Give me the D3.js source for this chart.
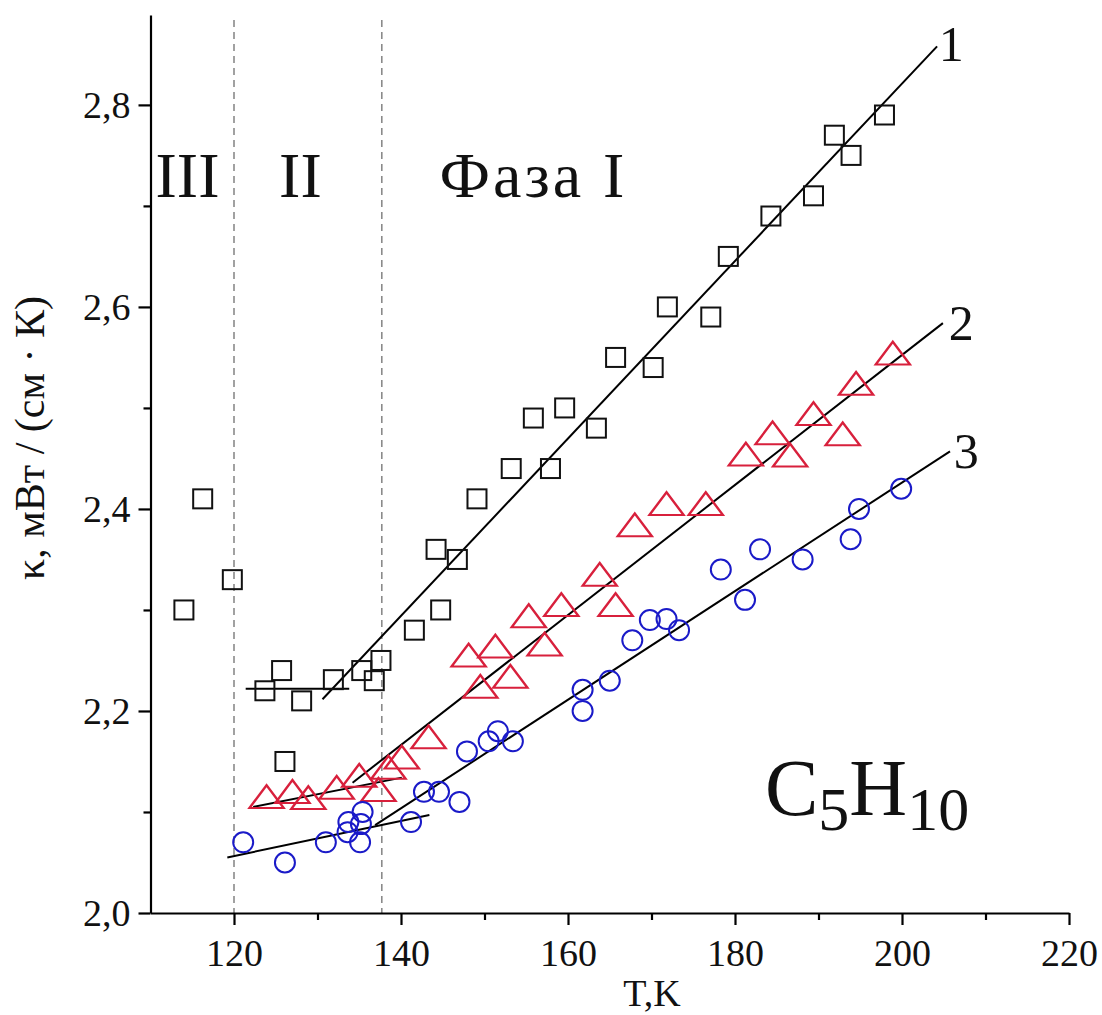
<!DOCTYPE html>
<html>
<head>
<meta charset="utf-8">
<script src="https://cdn.jsdelivr.net/npm/d3@7"></script>
<style>
  body { margin: 0; background: #fff; }
  text { font-family: "Liberation Serif", "Times New Roman", serif; }
</style>
</head>
<body>
<div id="container"></div>
<script>
let w = 1102;
let h = 1015;

// series 1 - squares
let sqT = [114.0, 116.25, 119.8, 123.7, 125.7, 126.1, 128.1, 131.9, 135.3, 136.8, 137.6, 141.6, 144.2, 144.75, 146.75, 149.1, 153.2, 155.85, 157.9, 159.6, 163.4, 165.7, 170.2, 171.9, 177.1, 179.2, 184.3, 189.4, 191.9, 193.9, 197.9];
let sqK = [2.300, 2.410, 2.330, 2.220, 2.240, 2.150, 2.210, 2.231, 2.240, 2.230, 2.250, 2.280, 2.360, 2.300, 2.350, 2.410, 2.440, 2.490, 2.440, 2.500, 2.480, 2.550, 2.540, 2.600, 2.590, 2.650, 2.690, 2.710, 2.770, 2.750, 2.790];

// series 2 - triangles
let trT = [123.9, 127.0, 128.9, 132.3, 135.0, 137.3, 138.5, 140.1, 143.3, 148.1, 149.5, 151.3, 153.1, 155.3, 157.2, 159.2, 163.8, 165.7, 168.0, 171.8, 176.5, 181.3, 184.5, 186.6, 189.4, 192.9, 194.5, 198.9];
let trK = [2.113, 2.118, 2.112, 2.122, 2.134, 2.120, 2.142, 2.152, 2.172, 2.253, 2.222, 2.262, 2.232, 2.292, 2.264, 2.303, 2.333, 2.303, 2.382, 2.403, 2.403, 2.452, 2.473, 2.451, 2.492, 2.472, 2.522, 2.552];

// series 3 - circles
let ciT = [121.1, 126.1, 131.0, 133.7, 133.6, 135.4, 135.2, 135.1, 141.2, 142.75, 144.55, 147.0, 147.9, 150.5, 151.6, 153.4, 161.75, 161.75, 165.0, 167.7, 169.8, 171.8, 173.3, 178.3, 181.2, 183.0, 188.1, 193.85, 194.85, 199.9];
let ciK = [2.070, 2.050, 2.070, 2.090, 2.080, 2.100, 2.088, 2.070, 2.090, 2.120, 2.120, 2.110, 2.160, 2.170, 2.180, 2.170, 2.221, 2.200, 2.230, 2.270, 2.290, 2.291, 2.280, 2.340, 2.310, 2.360, 2.350, 2.370, 2.400, 2.420];

// fitted straight lines [T0, T1], [K0, K1]
let fitLines = [
  {T: [121.4, 133.8], K: [2.222, 2.222]},
  {T: [130.6, 204.2], K: [2.2116, 2.858]},
  {T: [122.3, 140.1], K: [2.105, 2.134]},
  {T: [134.2, 204.9], K: [2.129, 2.584]},
  {T: [119.2, 143.4], K: [2.055, 2.097]},
  {T: [136.9, 205.75], K: [2.087, 2.457]}
];

// phase boundaries
let phaseT = [120, 137.7];

// ticks
let xMajor = [120, 140, 160, 180, 200, 220];
let xMinor = [130, 150, 170, 190, 210];
let yMajor = [2.0, 2.2, 2.4, 2.6, 2.8];
let yMinor = [2.1, 2.3, 2.5, 2.7];

// curve numbers
let curveLabels = ["1", "2", "3"];
let curveLabelT = [204.4, 205.6, 206.2];
let curveLabelK = [2.843, 2.567, 2.441];

let phaseLabels = ["III", "II", "Фаза I"];
let phaseLabelT = [110.6, 125.4, 144.6];
let phaseSpacing = [0, 0, 3];

let viz = d3.select("#container")
  .append("svg")
    .attr("width", w)
    .attr("height", h)
    .style("background", "#fff");

let xScale = d3.scaleLinear().domain([110, 220]).range([150.5, 1069]);
let yScale = d3.scaleLinear().domain([2.0, 2.889]).range([913, 15]);

let fmt = d => d3.format(".1f")(d).replace(".", ",");

// phase boundaries (dashed)
viz.selectAll(".phase").data(phaseT).enter().append("line")
  .attr("x1", d => xScale(d)).attr("x2", d => xScale(d))
  .attr("y1", 20).attr("y2", yScale(2.0))
  .attr("stroke", "#8a8a8a").attr("stroke-width", 1.6)
  .attr("stroke-dasharray", "7,5");

// x axis
let xAxisGroup = viz.append("g").attr("class", "xaxis")
  .attr("transform", "translate(0," + yScale(2.0) + ")");
xAxisGroup.call(d3.axisBottom(xScale).tickValues(xMajor).tickSize(12).tickSizeOuter(0).tickPadding(14));
let xMinorGroup = viz.append("g")
  .attr("transform", "translate(0," + yScale(2.0) + ")");
xMinorGroup.call(d3.axisBottom(xScale).tickValues(xMinor).tickSize(7).tickFormat(""));
xMinorGroup.select(".domain").remove();

// y axis
let yAxisGroup = viz.append("g").attr("class", "yaxis")
  .attr("transform", "translate(" + xScale(110) + ",0)");
yAxisGroup.call(d3.axisLeft(yScale).tickValues(yMajor).tickFormat(fmt).tickSize(12).tickSizeOuter(0).tickPadding(8));
let yMinorGroup = viz.append("g")
  .attr("transform", "translate(" + xScale(110) + ",0)");
yMinorGroup.call(d3.axisLeft(yScale).tickValues(yMinor).tickSize(7).tickFormat(""));
yMinorGroup.select(".domain").remove();

viz.selectAll(".xaxis path, .xaxis line, .yaxis path, .yaxis line, g line")
  .attr("stroke", "#000").attr("stroke-width", 2.2);
viz.selectAll(".xaxis text, .yaxis text")
  .attr("fill", "#111")
  .style("font-family", "'Liberation Serif', serif")
  .style("font-size", "38px");
viz.selectAll(".xaxis text").attr("dy", "0.71em");
viz.selectAll(".yaxis text").attr("dy", "0.34em");

// axis titles
viz.append("text")
  .attr("x", 652).attr("y", 1006)
  .attr("text-anchor", "middle")
  .style("font-size", "38px")
  .attr("fill", "#111")
  .text("T,K");

viz.append("text")
  .attr("transform", "translate(44," + 438 + ") rotate(-90)")
  .attr("text-anchor", "middle")
  .style("font-size", "42px")
  .attr("fill", "#111")
  .text("κ, мВт / (см · К)");

// fit lines
let line = d3.line().x(d => xScale(d[0])).y(d => yScale(d[1]));
viz.selectAll(".fit").data(fitLines).enter().append("path")
  .attr("d", d => line([[d.T[0], d.K[0]], [d.T[1], d.K[1]]]))
  .attr("stroke", "#000").attr("stroke-width", 2).attr("fill", "none");

// markers
let graphGroup = viz.append("g").classed("graphGroup", true);

graphGroup.selectAll(".sq").data(sqT).enter().append("rect")
  .attr("x", (d, i) => xScale(d) - 9.5)
  .attr("y", (d, i) => yScale(sqK[i]) - 9.5)
  .attr("width", 19).attr("height", 19)
  .attr("fill", "none").attr("stroke", "#111").attr("stroke-width", 2);

let tri = d3.symbol().type(d3.symbolTriangle).size(300);
graphGroup.selectAll(".tr").data(trT).enter().append("path")
  .attr("d", tri)
  .attr("transform", (d, i) => "translate(" + xScale(d) + "," + (yScale(trK[i]) + 1.5) + ") scale(1.3,1)")
  .attr("fill", "none").attr("stroke", "#d8203c").attr("stroke-width", 2);

graphGroup.selectAll(".ci").data(ciT).enter().append("circle")
  .attr("cx", d => xScale(d))
  .attr("cy", (d, i) => yScale(ciK[i]))
  .attr("r", 10)
  .attr("fill", "none").attr("stroke", "#1a1ac8").attr("stroke-width", 2);

// curve numbers
viz.selectAll(".cnum").data(curveLabels).enter().append("text")
  .attr("x", (d, i) => xScale(curveLabelT[i]))
  .attr("y", (d, i) => yScale(curveLabelK[i]))
  .style("font-size", "50px")
  .attr("fill", "#111")
  .text(d => d);

// phase labels
viz.selectAll(".plab").data(phaseLabels).enter().append("text")
  .attr("x", (d, i) => xScale(phaseLabelT[i]))
  .attr("y", 197)
  .style("font-size", "64px")
  .style("letter-spacing", (d, i) => phaseSpacing[i] + "px")
  .attr("fill", "#111")
  .text(d => d);

// formula
let formula = viz.append("text")
  .attr("x", 765).attr("y", 815)
  .style("font-size", "80px")
  .attr("fill", "#111");
formula.append("tspan").text("C");
formula.append("tspan").attr("dy", 15).style("font-size", "62px").text("5");
formula.append("tspan").attr("dy", -15).text("H");
formula.append("tspan").attr("dy", 15).style("font-size", "62px").text("10");
</script>
</body>
</html>
